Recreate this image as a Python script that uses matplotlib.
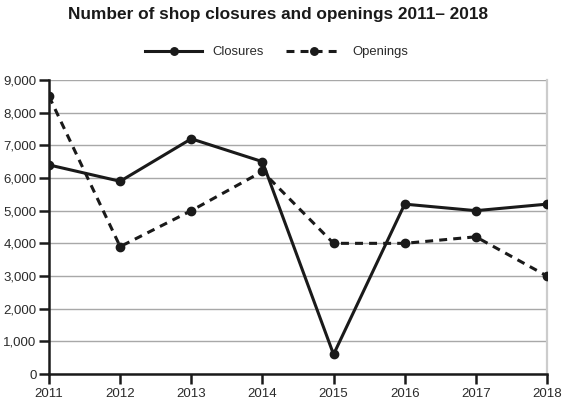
import matplotlib
matplotlib.use("Agg")
import matplotlib.pyplot as plt
from matplotlib.ticker import FuncFormatter

years = [2011, 2012, 2013, 2014, 2015, 2016, 2017, 2018]
closures = [6400, 5900, 7200, 6500, 600, 5200, 5000, 5200]
openings = [8500, 3900, 5000, 6200, 4000, 4000, 4200, 3000]

plt.rcParams['font.family'] = ['Liberation Sans', 'DejaVu Sans']

fig = plt.figure(figsize=(5.66, 4.13), dpi=100)
ax = fig.add_axes([0.0866, 0.0944, 0.8798, 0.7119])

ax.plot(years, closures, color='#1a1a1a', lw=2.2, marker='o', ms=6, label='Closures', zorder=3)
ax.plot(years, openings, color='#1a1a1a', lw=2.2, ls=(0, (2.6, 2.0)), marker='o', ms=6, label='Openings', zorder=3)

ax.set_xlim(2011, 2018)
ax.set_ylim(0, 9000)
ax.set_yticks(range(0, 9001, 1000))
ax.set_xticks(years)
ax.yaxis.set_major_formatter(FuncFormatter(lambda v, p: f"{int(v):,}"))
ax.grid(axis='y', color='#a8a8a8', lw=1.0)
ax.set_axisbelow(True)
ax.spines['top'].set_visible(False)
ax.spines['right'].set_color('#cccccc')
ax.spines['right'].set_linewidth(1.6)
for s in ['left', 'bottom']:
    ax.spines[s].set_color('#1a1a1a')
    ax.spines[s].set_linewidth(1.8)
ax.tick_params(axis='both', colors='#1a1a1a', labelcolor='#2a2a2a', labelsize=9.5, width=1.8, length=7, direction='out')
ax.tick_params(axis='y', pad=2)
ax.tick_params(axis='x', pad=3)

fig.text(0.4912, 0.966, 'Number of shop closures and openings 2011\u2013 2018', ha='center', va='center',
         fontsize=12.4, fontweight='bold', color='#1a1a1a')
fig.legend(loc='center', bbox_to_anchor=(0.489, 0.874), ncol=2, frameon=False, fontsize=9.4,
           handlelength=4.3, columnspacing=1.7, handletextpad=0.8, markerscale=0.9,
           labelcolor='#2a2a2a')

fig.savefig('out.png', dpi=100)
